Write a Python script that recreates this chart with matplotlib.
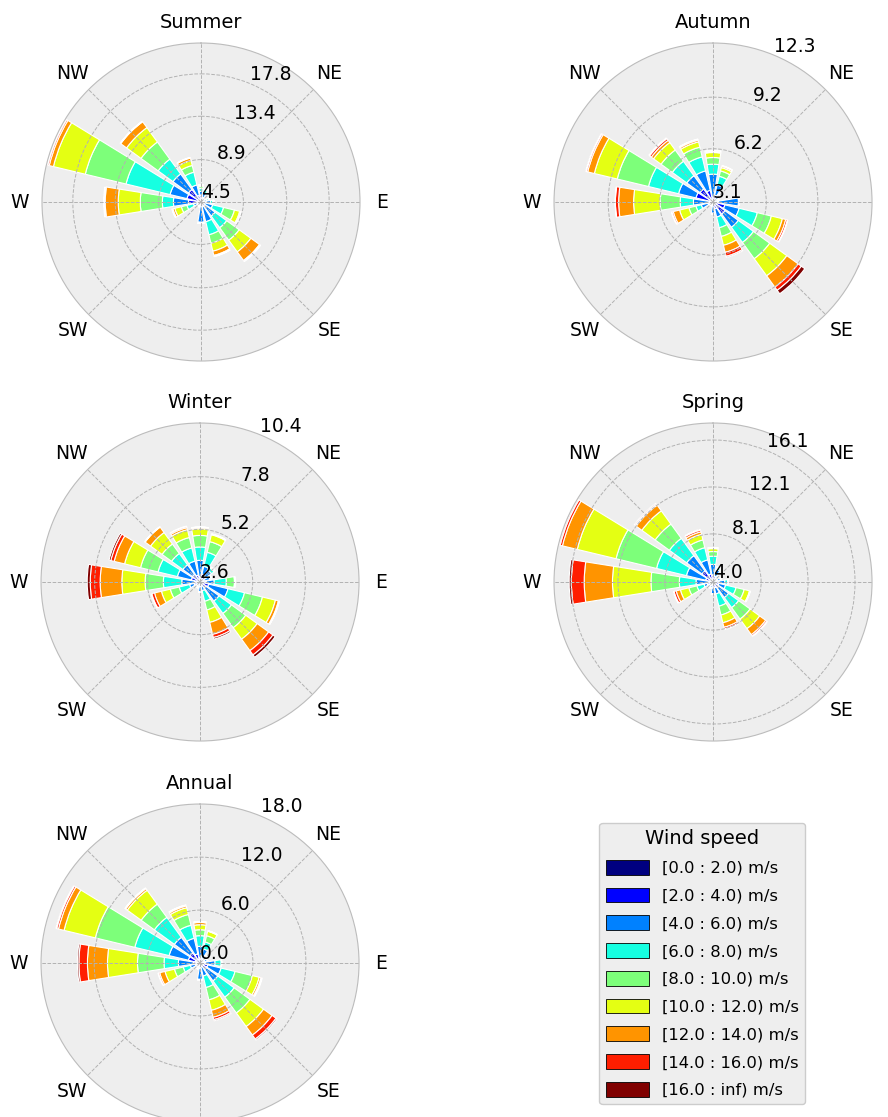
import numpy as np
import matplotlib
matplotlib.use("Agg")
import matplotlib.pyplot as plt
from matplotlib.patches import Patch

# sectors, clockwise from north: N, NNE, NE, ... NNW
directions = np.arange(0, 360, 22.5)

speed_labels = ["[0.0 : 2.0) m/s", "[2.0 : 4.0) m/s", "[4.0 : 6.0) m/s",
                "[6.0 : 8.0) m/s", "[8.0 : 10.0) m/s", "[10.0 : 12.0) m/s",
                "[12.0 : 14.0) m/s", "[14.0 : 16.0) m/s", "[16.0 : inf) m/s"]

# cumulative frequency (%) per sector, one column per speed class
summer = [
    [3.0, 5.2, 5.6, 5.9, 6.1, 6.25, 6.28, 6.29, 6.3],
    [3.0, 5.0, 5.5, 5.8, 5.9, 5.95, 5.96, 5.97, 5.97],
    [2.5, 4.6, 4.9, 5.0, 5.05, 5.07, 5.08, 5.08, 5.08],
    [2.5, 4.7, 5.1, 5.3, 5.35, 5.37, 5.38, 5.38, 5.38],
    [2.8, 5.0, 5.5, 5.7, 5.8, 5.82, 5.83, 5.83, 5.83],
    [2.4, 4.76, 5.74, 6.91, 8.07, 8.63, 8.75, 8.78, 8.8],
    [2.5, 5.0, 6.3, 7.8, 9.4, 10.9, 12.0, 12.1, 12.15],
    [2.5, 5.0, 6.6, 8.0, 8.9, 9.75, 10.2, 10.3, 10.33],
    [2.5, 4.8, 6.6, 6.7, 6.72, 6.73, 6.73, 6.73, 6.73],
    [2.3, 4.4, 4.9, 5.0, 5.02, 5.03, 5.03, 5.03, 5.03],
    [2.3, 4.4, 4.8, 4.85, 4.87, 4.88, 4.88, 4.88, 4.88],
    [2.5, 4.9, 5.3, 6.0, 6.6, 7.3, 7.5, 7.58, 7.6],
    [2.5, 5.8, 7.36, 8.51, 10.8, 13.09, 14.44, 14.55, 14.6],
    [2.0, 6.0, 7.8, 12.5, 16.85, 20.25, 20.7, 20.85, 20.95],
    [3.0, 6.1, 8.1, 10.0, 12.2, 14.05, 14.8, 14.85, 14.87],
    [2.5, 5.2, 6.32, 7.68, 8.4, 8.93, 9.19, 9.24, 9.25],
]

autumn = [
    [1.5, 3.37, 4.72, 5.3, 5.69, 5.98, 6.04, 6.08, 6.1],
    [1.5, 3.5, 4.12, 4.64, 4.96, 5.16, 5.24, 5.27, 5.28],
    [1.5, 3.3, 3.6, 3.66, 3.68, 3.69, 3.69, 3.69, 3.69],
    [1.5, 3.2, 3.4, 3.45, 3.46, 3.46, 3.46, 3.46, 3.46],
    [1.5, 3.4, 4.58, 4.6, 4.61, 4.61, 4.61, 4.61, 4.61],
    [1.5, 3.81, 4.66, 5.75, 6.59, 7.25, 7.45, 7.55, 7.58],
    [1.5, 3.96, 4.92, 6.01, 7.18, 8.41, 9.22, 9.45, 9.7],
    [1.5, 3.5, 4.0, 4.64, 5.16, 5.69, 6.11, 6.35, 6.42],
    [1.5, 3.3, 3.75, 3.8, 3.81, 3.81, 3.81, 3.81, 3.81],
    [1.4, 3.2, 3.3, 3.32, 3.33, 3.33, 3.33, 3.33, 3.33],
    [1.4, 3.2, 3.3, 3.32, 3.33, 3.33, 3.33, 3.33, 3.33],
    [1.5, 3.4, 3.8, 4.12, 4.54, 5.1, 5.48, 5.56, 5.59],
    [1.5, 3.25, 4.24, 5.01, 6.17, 7.72, 8.59, 8.78, 8.8],
    [1.5, 4.12, 5.16, 6.96, 8.83, 10.2, 10.6, 10.68, 10.72],
    [1.5, 4.03, 4.99, 6.03, 6.84, 7.38, 7.54, 7.66, 7.72],
    [1.5, 3.8, 4.96, 5.8, 6.38, 6.7, 6.8, 6.85, 6.87],
]

winter = [
    [1.2, 2.85, 3.67, 4.33, 4.9, 5.23, 5.29, 5.31, 5.32],
    [1.2, 3.0, 3.4, 4.11, 4.65, 5.0, 5.03, 5.04, 5.04],
    [1.2, 2.9, 3.3, 3.45, 3.5, 3.51, 3.51, 3.51, 3.51],
    [1.2, 2.8, 3.1, 3.18, 3.19, 3.19, 3.19, 3.19, 3.19],
    [1.2, 2.9, 3.3, 3.9, 4.3, 4.33, 4.33, 4.33, 4.33],
    [1.2, 3.04, 4.02, 4.86, 5.77, 6.43, 6.58, 6.62, 6.63],
    [1.2, 2.95, 3.76, 4.52, 5.39, 6.09, 6.79, 7.05, 7.19],
    [1.2, 2.8, 3.04, 3.58, 4.02, 4.65, 5.26, 5.42, 5.5],
    [1.2, 2.8, 3.08, 3.1, 3.1, 3.1, 3.1, 3.1, 3.1],
    [1.1, 2.7, 2.85, 2.88, 2.9, 2.9, 2.9, 2.9, 2.9],
    [1.1, 2.7, 2.85, 2.88, 2.9, 2.9, 2.9, 2.9, 2.9],
    [1.2, 2.9, 3.13, 3.66, 4.11, 4.56, 4.91, 5.05, 5.09],
    [1.2, 2.85, 3.5, 4.41, 5.31, 6.46, 7.53, 8.02, 8.17],
    [1.2, 3.04, 3.75, 4.73, 5.62, 6.43, 6.96, 7.13, 7.22],
    [1.2, 3.06, 3.65, 4.34, 4.92, 5.62, 5.95, 5.97, 5.98],
    [1.2, 2.95, 3.66, 4.33, 4.86, 5.26, 5.36, 5.42, 5.44],
]

spring = [
    [2.0, 4.6, 5.5, 6.2, 6.6, 6.85, 6.92, 6.93, 6.93],
    [2.0, 4.5, 5.1, 5.25, 5.3, 5.31, 5.31, 5.31, 5.31],
    [2.0, 4.4, 4.65, 4.7, 4.71, 4.71, 4.71, 4.71, 4.71],
    [2.0, 4.4, 4.65, 4.7, 4.71, 4.71, 4.71, 4.71, 4.71],
    [2.0, 4.5, 5.0, 5.25, 5.3, 5.31, 5.31, 5.31, 5.31],
    [2.0, 4.5, 5.1, 6.02, 6.73, 7.2, 7.24, 7.26, 7.26],
    [2.0, 4.6, 5.64, 6.7, 7.91, 8.92, 9.55, 9.68, 9.75],
    [2.0, 4.5, 5.04, 6.12, 6.89, 7.57, 7.97, 8.12, 8.18],
    [2.0, 4.5, 5.0, 5.05, 5.06, 5.06, 5.06, 5.06, 5.06],
    [1.9, 4.3, 4.5, 4.55, 4.56, 4.56, 4.56, 4.56, 4.56],
    [1.9, 4.3, 4.5, 4.55, 4.56, 4.56, 4.56, 4.56, 4.56],
    [2.0, 4.5, 4.79, 5.41, 6.12, 6.86, 7.23, 7.42, 7.48],
    [2.0, 4.31, 5.45, 6.87, 9.29, 12.57, 14.98, 16.07, 16.26],
    [2.0, 4.64, 6.33, 8.95, 12.5, 15.9, 17.2, 17.4, 17.5],
    [2.0, 5.17, 6.78, 8.6, 10.1, 11.5, 12.1, 12.2, 12.3],
    [2.0, 4.7, 5.94, 7.01, 7.69, 8.18, 8.4, 8.55, 8.62],
]

annual = [
    [0.3, 0.57, 1.89, 3.1, 3.77, 4.34, 4.6, 4.7, 4.72],
    [0.3, 0.61, 1.63, 2.45, 3.18, 3.7, 3.75, 3.76, 3.76],
    [0.3, 0.6, 1.0, 1.13, 1.15, 1.15, 1.15, 1.15, 1.15],
    [0.3, 0.55, 0.85, 0.9, 0.91, 0.91, 0.91, 0.91, 0.91],
    [0.3, 0.6, 1.7, 2.4, 2.45, 2.45, 2.45, 2.45, 2.45],
    [0.35, 0.9, 2.45, 4.08, 6.1, 6.9, 7.1, 7.2, 7.25],
    [0.4, 0.9, 2.5, 4.78, 7.0, 8.9, 10.1, 10.65, 10.8],
    [0.2, 0.41, 1.51, 2.86, 4.29, 5.51, 6.33, 6.6, 6.74],
    [0.3, 0.6, 1.85, 1.9, 1.91, 1.91, 1.91, 1.91, 1.91],
    [0.25, 0.5, 0.68, 0.7, 0.7, 0.7, 0.7, 0.7, 0.7],
    [0.25, 0.5, 0.68, 0.7, 0.7, 0.7, 0.7, 0.7, 0.7],
    [0.25, 0.49, 1.13, 1.96, 2.98, 4.08, 4.7, 4.85, 4.9],
    [0.4, 0.75, 2.45, 4.08, 7.09, 10.49, 12.76, 13.73, 13.9],
    [0.55, 1.36, 3.6, 7.6, 12.2, 15.85, 16.5, 16.7, 16.8],
    [0.5, 1.4, 3.6, 6.4, 8.25, 10.2, 10.42, 10.5, 10.52],
    [0.45, 1.07, 2.88, 4.4, 5.66, 6.45, 6.65, 6.75, 6.78],
]

seasons = ["Summer", "Autumn", "Winter", "Spring", "Annual"]
tables = [summer, autumn, winter, spring, annual]
radial_ticks = [
    [4.5, 8.9, 13.4, 17.8],
    [3.1, 6.2, 9.2, 12.3],
    [2.6, 5.2, 7.8, 10.4],
    [4.0, 8.1, 12.1, 16.1],
    [0.0, 6.0, 12.0, 18.0],
]
radial_max = [21.0, 12.35, 10.45, 17.55, 18.02]

# axes boxes in figure fraction (left, bottom, width, height)
W, H = 318 / 888, 318 / 1117
boxes = [
    (0.0473, 0.6768, W, H),
    (0.6239, 0.6768, W, H),
    (0.0462, 0.3366, W, H),
    (0.6239, 0.3366, W, H),
    (0.0462, -0.0045, W, H),
]

colors = plt.cm.jet(np.linspace(0, 1, len(speed_labels)))
theta = np.deg2rad(directions)
width = np.deg2rad(22.5) * 0.8

fig = plt.figure(figsize=(8.88, 11.17), dpi=100)

for name, table, ticks, top, box in zip(seasons, tables, radial_ticks, radial_max, boxes):
    ax = fig.add_axes(box, projection="polar")
    ax.set_theta_zero_location("N")
    ax.set_theta_direction(-1)
    ax.set_facecolor("#eeeeee")
    ax.set_axisbelow(False)

    # radial axis starts at the first ring, so the part of a bar below it is cut off
    r0 = ticks[0]
    cum = np.asarray(table)
    base = np.hstack([np.zeros((len(cum), 1)), cum[:, :-1]])
    lo = np.maximum(base, r0)
    hi = np.maximum(cum, r0)
    for j in range(cum.shape[1]):
        ax.bar(theta, hi[:, j] - lo[:, j], bottom=lo[:, j], width=width,
               color=colors[j], edgecolor="white", linewidth=0.8)

    ax.set_rlim(r0, top)
    ax.set_rgrids(ticks, labels=["%.1f" % t for t in ticks], angle=22.5, fontsize=13.5)
    ax.set_thetagrids(np.arange(0, 360, 45),
                      labels=["", "NE", "E", "SE", "", "SW", "W", "NW"], fontsize=13.5)
    ax.tick_params(axis="x", pad=5.5)
    ax.grid(color="#b2b2b2", linestyle="--", linewidth=0.7)
    # no dashed ring on top of the outer frame
    for t, gl in zip(ticks, ax.yaxis.get_gridlines()):
        if t >= top - 0.1:
            gl.set_visible(False)
    ax.spines["polar"].set_color("#bcbcbc")
    ax.set_title(name, fontsize=14, pad=11)

handles = [Patch(facecolor=c, edgecolor="black", linewidth=0.6) for c in colors]
fig.legend(handles, speed_labels, title="Wind speed", loc="center",
           bbox_to_anchor=(0.791, 0.1374), fontsize=11.8, title_fontsize=14,
           facecolor="#eeeeee", edgecolor="#cccccc", framealpha=1,
           handlelength=2.6, handleheight=1.0, labelspacing=0.72)

fig.savefig("out.png", dpi=100)
